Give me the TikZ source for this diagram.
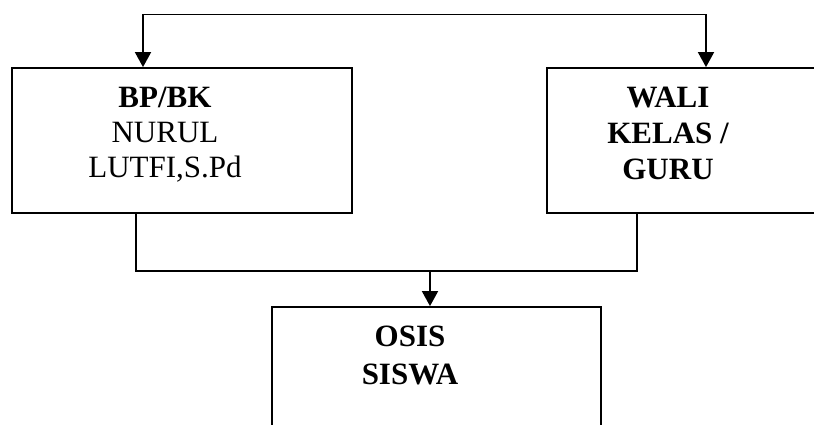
\documentclass[tikz,border=0pt]{standalone}
\usepackage{fontspec}
\setmainfont{Liberation Serif}
\usetikzlibrary{arrows.meta}

\tikzset{
    unitbox/.style={draw, line width=1.8pt, inner sep=0pt},
    linkline/.style={line width=1.8pt},
    downarrow/.style={line width=1.8pt, -{Triangle[width=16pt,length=15pt]}},
    label/.style={align=center, inner sep=0pt, anchor=north}
}

\begin{document}
\begin{tikzpicture}[x=1pt, y=-1pt]

    \useasboundingbox (0,0) rectangle (814,425);
    \clip (0,0) rectangle (814,425);

    \coordinate (topL) at (143,14.5);
    \coordinate (topR) at (706,14.5);
    \coordinate (joinL) at (136,271);
    \coordinate (joinR) at (637,271);
    \coordinate (joinM) at (430,271);

\node[unitbox, minimum width=340pt, minimum height=145pt] (bp) at (182,140.5) {};
\node[unitbox, minimum width=290pt, minimum height=145pt] (wali) at (692,140.5) {};
\node[unitbox, minimum width=329pt, minimum height=160pt] (osis) at (436.5,387) {};

\node[label, font=\fontsize{31}{35}\selectfont] (bptext) at (165,87)
    {\textbf{BP/BK}\\NURUL\\LUTFI,S.Pd};
\node[label, font=\fontsize{31}{36}\selectfont\bfseries] (walitext) at (668,86.5)
    {WALI\\KELAS /\\GURU};
\node[label, font=\fontsize{31}{38}\selectfont\bfseries] (osistext) at (410,326)
    {OSIS\\SISWA};

\draw[linkline] (topL) -- (topR);
\draw[downarrow] (topL) -- (topL |- bp.north);
\draw[downarrow] (topR) -- (topR |- wali.north);

\draw[linkline] (joinL |- bp.south) -- (joinL) -- (joinR) -- (joinR |- wali.south);
\draw[downarrow] (joinM) -- (joinM |- osis.north);

\end{tikzpicture}
\end{document}
